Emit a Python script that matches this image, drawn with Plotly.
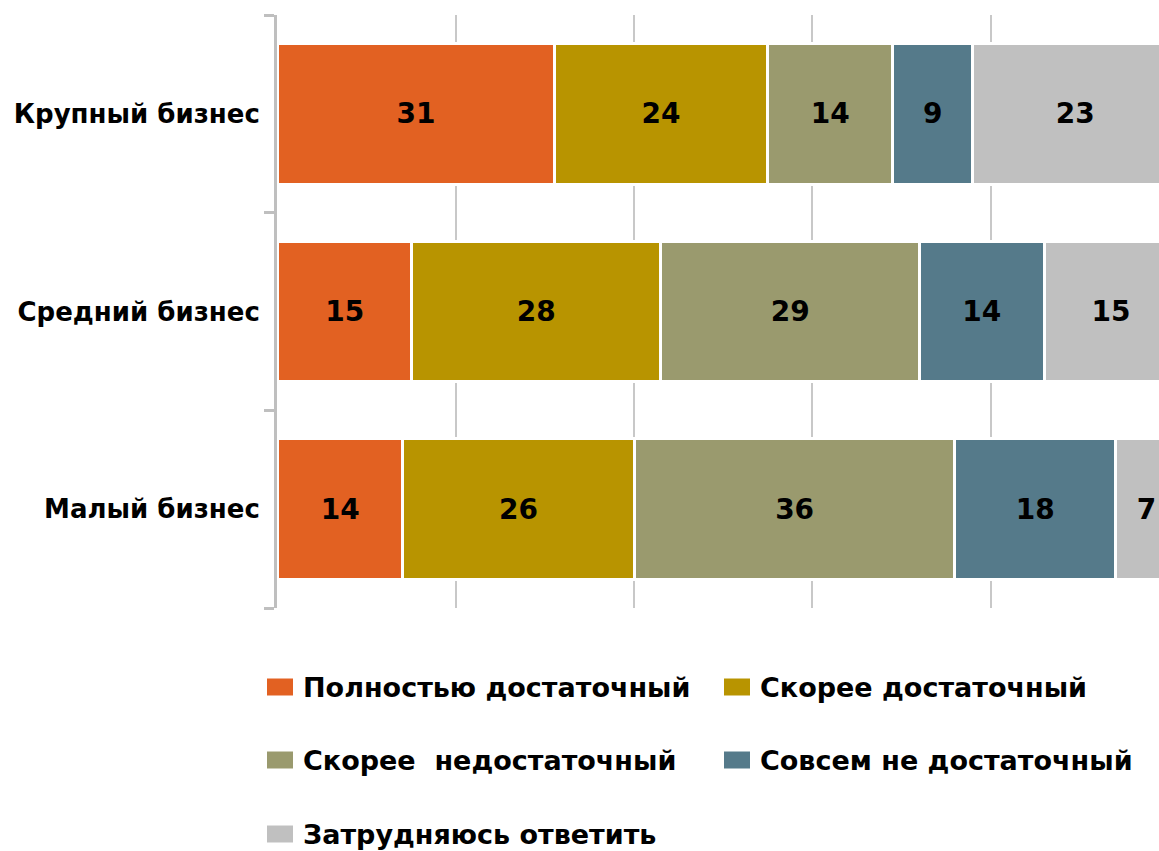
import plotly.graph_objects as go

# Survey shares (%) by business size
categories = ["Малый бизнес", "Средний бизнес", "Крупный бизнес"]
series_names = [
    "Полностью достаточный",
    "Скорее достаточный",
    "Скорее  недостаточный",
    "Совсем не достаточный",
    "Затрудняюсь ответить",
]
values = {
    "Полностью достаточный": [14, 15, 31],
    "Скорее достаточный": [26, 28, 24],
    "Скорее  недостаточный": [36, 29, 14],
    "Совсем не достаточный": [18, 14, 9],
    "Затрудняюсь ответить": [7, 15, 23],
}
colors = ["#E26122", "#B89400", "#9A9A6E", "#557A8A", "#C0C0C0"]

W, H = 1159, 851
ML, MR, MT, MB = 277, 0, 15, 243
FONT = "DejaVu Sans"

fig = go.Figure()
for name, col in zip(series_names, colors):
    fig.add_trace(go.Bar(
        y=categories,
        x=values[name],
        name=name,
        orientation="h",
        marker=dict(color=col, line=dict(color="white", width=3)),
        text=values[name],
        texttemplate="<b>%{text}</b>",
        textposition="inside",
        insidetextanchor="middle",
        constraintext="none",
        textfont=dict(family=FONT, size=28, color="black"),
        showlegend=False,
    ))

# pixel -> paper helpers for the hand-placed legend
pw = W - ML - MR
ph = H - MT - MB
def px(xp):
    return (xp - ML) / pw
def py(yp):
    return (H - MB - yp) / ph

legend_pos = [
    (267, 687), (724, 687),
    (267, 760), (724, 760),
    (267, 834),
]
shapes = []
annotations = []
for (lx, ly), name, col in zip(legend_pos, series_names, colors):
    shapes.append(dict(
        type="rect", xref="paper", yref="paper",
        x0=px(lx), x1=px(lx + 26), y0=py(ly + 8.5), y1=py(ly - 8.5),
        fillcolor=col, line=dict(width=0), layer="above",
    ))
    annotations.append(dict(
        xref="paper", yref="paper", x=px(lx + 34), y=py(ly),
        xanchor="left", yanchor="middle", showarrow=False,
        text=f"<b>{name.replace('  ', '&nbsp; ')}</b>",
        font=dict(family=FONT, size=27, color="black"),
    ))

fig.update_layout(
    barmode="stack",
    bargap=0.29,
    width=W, height=H,
    margin=dict(l=ML, r=MR, t=MT, b=MB),
    plot_bgcolor="white",
    paper_bgcolor="white",
    shapes=shapes,
    annotations=annotations,
    xaxis=dict(
        range=[-0.1, 98.9],
        tickvals=[20, 40, 60, 80],
        showticklabels=False,
        showgrid=True, gridcolor="#C8C8C8", gridwidth=2,
        zeroline=False, showline=False,
    ),
    yaxis=dict(
        categoryorder="array", categoryarray=categories,
        showline=True, linecolor="#BFBFBF", linewidth=3,
        ticks="outside", tickson="boundaries", ticklen=10,
        tickcolor="#BFBFBF", tickwidth=3,
        ticklabelstandoff=9,
        tickfont=dict(family=FONT, size=26, color="black", weight="bold"),
        showgrid=False,
    ),
)

fig.write_html("out.html")
